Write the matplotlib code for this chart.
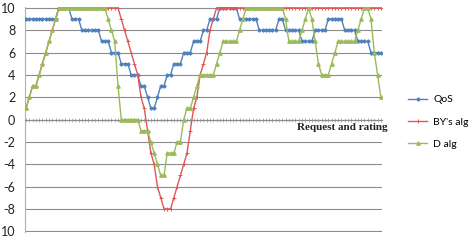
import numpy as np
import matplotlib.pyplot as plt

qos = [9, 9, 9, 9, 9, 9, 9, 9, 9, 9,
       10, 10, 10, 10, 9, 9, 9, 8, 8, 8,
       8, 8, 8, 7, 7, 7, 6, 6, 6, 5,
       5, 5, 4, 4, 4, 3, 3, 2, 1, 1,
       2, 3, 3, 4, 4, 5, 5, 5, 6, 6,
       6, 7, 7, 7, 8, 8, 9, 9, 9, 10,
       10, 10, 10, 10, 10, 9, 9, 9, 9, 9,
       9, 8, 8, 8, 8, 8, 8, 9, 9, 8,
       8, 8, 8, 8, 7, 7, 7, 7, 8, 8,
       8, 8, 9, 9, 9, 9, 9, 8, 8, 8,
       8, 7, 7, 7, 7, 6, 6, 6, 6]

by_alg = [1, 2, 3, 3, 4, 5, 6, 7, 8, 9,
          10, 10, 10, 10, 10, 10, 10, 10, 10, 10,
          10, 10, 10, 10, 10, 10, 10, 10, 10, 9,
          8, 7, 6, 5, 4, 2, 1, -1, -3, -4,
          -6, -7, -8, -8, -8, -7, -6, -5, -4, -3,
          -1, 1, 2, 4, 5, 6, 8, 9, 10, 10,
          10, 10, 10, 10, 10, 10, 10, 10, 10, 10,
          10, 10, 10, 10, 10, 10, 10, 10, 10, 10,
          10, 10, 10, 10, 10, 10, 10, 10, 10, 10,
          10, 10, 10, 10, 10, 10, 10, 10, 10, 10,
          10, 10, 10, 10, 10, 10, 10, 10, 10]

d_alg = [1, 2, 3, 3, 4, 5, 6, 7, 8, 9,
         10, 10, 10, 10, 10, 10, 10, 10, 10, 10,
         10, 10, 10, 10, 10, 9, 8, 7, 3, 0,
         0, 0, 0, 0, 0, -1, -1, -1, -2, -3,
         -4, -5, -5, -3, -3, -3, -2, -2, 0, 1,
         1, 2, 3, 4, 4, 4, 4, 4, 5, 6,
         7, 7, 7, 7, 7, 8, 9, 10, 10, 10,
         10, 10, 10, 10, 10, 10, 10, 10, 10, 9,
         7, 7, 7, 7, 8, 9, 10, 9, 7, 5,
         4, 4, 4, 5, 6, 7, 7, 7, 7, 7,
         7, 8, 9, 10, 10, 9, 6, 4, 2]

y_ticks = [-10, -8, -6, -4, -2, 0, 2, 4, 6, 8, 10]
y_labels = ['10', '-8', '-6', '-4', '-2', '0', '2', '4', '6', '8', '10']

x = np.arange(len(qos))

fig = plt.figure(figsize=(4.72, 2.42), dpi=100)
ax = fig.add_axes([0.053, 0.041, 0.756, 0.930])

l1, = ax.plot(x, qos, color='#4F81BD', lw=1, marker='D', ms=1.6, label='QoS', zorder=3)
l2, = ax.plot(x, by_alg, color='#E0575A', lw=1, marker='+', ms=2.5, mew=0.7, label="BY's alg", zorder=4)
l3, = ax.plot(x, d_alg, color='#9BBB59', lw=1, marker='^', ms=2.4, label='D alg', zorder=5)

ax.set_xlim(-0.3, len(qos) - 0.7)
ax.set_ylim(-10.08, 10.08)
ax.set_yticks(y_ticks)
ax.set_yticklabels(y_labels, fontsize=9, family='Lato', color='#222222')
ax.yaxis.grid(True, color='#8c8c8c', lw=0.8)
ax.set_axisbelow(True)

ax.set_xticks(x)
ax.tick_params(axis='x', direction='inout', length=3, width=0.5, colors='#9a9a9a', labelbottom=False)
ax.tick_params(axis='y', length=0, pad=7)

for s in ['top', 'right']:
    ax.spines[s].set_visible(False)
ax.spines['left'].set_color('#b0b0b0')
ax.spines['bottom'].set_position(('data', 0))
ax.spines['bottom'].set_color('#8c8c8c')

fig.text(388 / 472, 1 - 128 / 242, 'Request and rating', ha='right', va='center',
         family='Liberation Serif', fontweight='bold', fontsize=8, color='#222222')

fig.legend(handles=[l1, l2, l3], loc='center left', bbox_to_anchor=(403 / 472, 1 - 122 / 242),
           frameon=False, borderpad=0, labelspacing=1.25, handlelength=1.8,
           handletextpad=0.6, prop={'family': 'Lato', 'size': 7.5})

fig.savefig('out.png', dpi=100)
